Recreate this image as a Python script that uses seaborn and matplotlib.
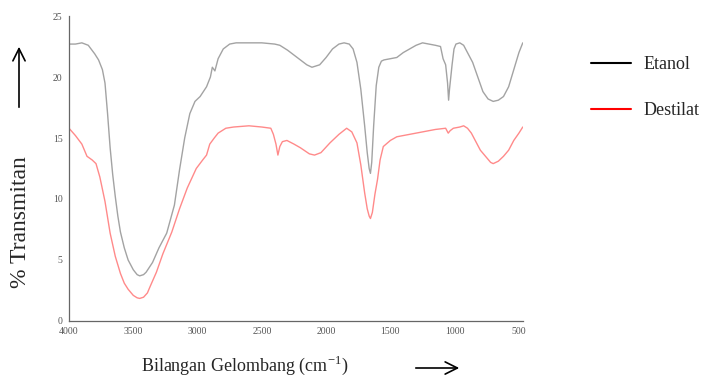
import numpy as np
import pandas as pd
import seaborn as sns
import matplotlib.pyplot as plt
from matplotlib.lines import Line2D
from matplotlib.ticker import MultipleLocator

# data
etanol_x = [4000, 3950, 3900, 3850, 3800, 3770, 3740, 3720, 3700, 3680, 3660, 3640, 3620, 3600,
            3570, 3540, 3500, 3470, 3450, 3420, 3400, 3350, 3300, 3240, 3180, 3140, 3100, 3060,
            3020, 2980, 2930, 2900, 2885, 2865, 2840, 2800, 2750, 2700, 2600, 2500, 2400, 2360,
            2300, 2200, 2150, 2110, 2050, 2000, 1950, 1900, 1860, 1820, 1790, 1760, 1730, 1700,
            1680, 1665, 1655, 1645, 1630, 1610, 1590, 1570, 1550, 1500, 1450, 1400, 1350, 1300,
            1250, 1200, 1150, 1110, 1090, 1070, 1055, 1047, 1040, 1030, 1020, 1005, 990, 960,
            930, 900, 860, 820, 780, 740, 700, 660, 620, 580, 540, 500, 470]
etanol_y = [22.7, 22.7, 22.8, 22.6, 21.9, 21.4, 20.6, 19.5, 17.0, 14.2, 12.0, 10.2, 8.6, 7.3,
            6.0, 5.0, 4.2, 3.8, 3.7, 3.8, 4.0, 4.8, 6.0, 7.2, 9.5, 12.4, 15.0, 17.0,
            18.0, 18.4, 19.2, 20.0, 20.8, 20.5, 21.5, 22.3, 22.7, 22.8, 22.8, 22.8, 22.7, 22.6,
            22.2, 21.4, 21.0, 20.8, 21.0, 21.6, 22.3, 22.7, 22.8, 22.7, 22.3, 21.2, 19.0, 16.0,
            13.8, 12.5, 12.1, 13.0, 16.0, 19.3, 20.8, 21.3, 21.4, 21.5, 21.6, 22.0, 22.3, 22.6,
            22.8, 22.7, 22.6, 22.5, 21.5, 21.0, 19.5, 18.1, 19.0, 20.0, 21.0, 22.3, 22.7, 22.8,
            22.6, 22.0, 21.2, 20.0, 18.8, 18.2, 18.0, 18.1, 18.4, 19.2, 20.6, 22.0, 22.8]

destilat_x = [4000, 3950, 3900, 3860, 3820, 3790, 3760, 3720, 3680, 3640, 3600, 3570, 3540, 3500,
              3470, 3450, 3420, 3390, 3370, 3320, 3270, 3200, 3140, 3080, 3010, 2960, 2930, 2905,
              2870, 2840, 2780, 2720, 2600, 2500, 2430, 2410, 2390, 2375, 2360, 2340, 2305, 2250,
              2200, 2130, 2090, 2040, 1970, 1900, 1840, 1800, 1760, 1730, 1700, 1680, 1665, 1655,
              1640, 1620, 1600, 1580, 1555, 1500, 1450, 1350, 1250, 1150, 1070, 1050, 1035, 1010,
              960, 930, 900, 870, 830, 800, 760, 720, 700, 660, 620, 580, 540, 500, 470]
destilat_y = [15.8, 15.2, 14.5, 13.5, 13.2, 12.9, 11.8, 9.8, 7.2, 5.3, 3.9, 3.1, 2.6, 2.1,
              1.9, 1.85, 1.95, 2.3, 2.8, 4.0, 5.5, 7.3, 9.2, 10.9, 12.5, 13.2, 13.6, 14.5,
              15.0, 15.4, 15.8, 15.9, 16.0, 15.9, 15.8, 15.3, 14.5, 13.6, 14.3, 14.7, 14.8, 14.5,
              14.2, 13.7, 13.6, 13.8, 14.6, 15.3, 15.8, 15.5, 14.6, 12.8, 10.5, 9.2, 8.6, 8.4,
              8.9, 10.4, 11.6, 13.2, 14.3, 14.8, 15.1, 15.3, 15.5, 15.7, 15.8, 15.4, 15.6, 15.8,
              15.9, 16.0, 15.8, 15.4, 14.6, 14.0, 13.5, 13.0, 12.9, 13.1, 13.5, 14.0, 14.8, 15.4, 15.9]

sns.set_style('white')
plt.rcParams['font.family'] = ['Liberation Serif', 'DejaVu Serif']
plt.rcParams['mathtext.fontset'] = 'custom'
plt.rcParams['mathtext.rm'] = 'Liberation Serif'

df_et = pd.DataFrame({'x': etanol_x, 'y': etanol_y})
df_ds = pd.DataFrame({'x': destilat_x, 'y': destilat_y})

fig = plt.figure(figsize=(7.18, 3.83), dpi=100)
ax = fig.add_axes([0.0961, 0.1619, 0.632, 0.7963])

sns.lineplot(data=df_et, x='x', y='y', color='#a3a3a3', lw=1.0, ax=ax)
sns.lineplot(data=df_ds, x='x', y='y', color='#ff8a8a', lw=1.0, ax=ax)

ax.set_xlim(4000, 470)
ax.set_ylim(0, 25)
ax.xaxis.set_major_locator(MultipleLocator(500))
ax.xaxis.set_minor_locator(MultipleLocator(250))
ax.yaxis.set_major_locator(MultipleLocator(5))
ax.yaxis.set_minor_locator(MultipleLocator(2.5))
ax.tick_params(which='major', direction='inout', length=5, width=0.8, colors='#666666',
               labelsize=7, labelcolor='#555555')
ax.tick_params(which='minor', direction='in', length=2.5, width=0.8, colors='#666666')
ax.tick_params(axis='x', pad=2)
ax.tick_params(axis='y', pad=2)
for s in ['top', 'right']:
    ax.spines[s].set_visible(False)
for s in ['left', 'bottom']:
    ax.spines[s].set_color('#666666')
    ax.spines[s].set_linewidth(0.9)
ax.set_xlabel('')
ax.set_ylabel('')

# axis titles with arrows
fig.text(245 / 718, 1 - 365 / 383, r'Bilangan Gelombang (cm$^{-1}$)', fontsize=13,
         ha='center', va='center')
fig.text(21 / 718, 1 - 222 / 383, '% Transmitan', fontsize=17, rotation=90,
         ha='center', va='center')
ax.annotate('', xy=(462 / 718, 1 - 368 / 383), xytext=(413 / 718, 1 - 368 / 383),
            xycoords='figure fraction', textcoords='figure fraction',
            arrowprops=dict(arrowstyle='->', lw=1.2, color='black', mutation_scale=22))
ax.annotate('', xy=(19 / 718, 1 - 44 / 383), xytext=(19 / 718, 1 - 110 / 383),
            xycoords='figure fraction', textcoords='figure fraction',
            arrowprops=dict(arrowstyle='->', lw=1.2, color='black', mutation_scale=22))

handles = [Line2D([], [], color='black', lw=1.5), Line2D([], [], color='red', lw=1.5)]
fig.legend(handles, ['Etanol', 'Destilat'], loc='upper left',
           bbox_to_anchor=(591 / 718, 1 - 56 / 383), frameon=False, fontsize=13,
           borderpad=0, borderaxespad=0, handlelength=2.2, handletextpad=0.7,
           labelspacing=1.6)

fig.savefig('out.png', dpi=100)
